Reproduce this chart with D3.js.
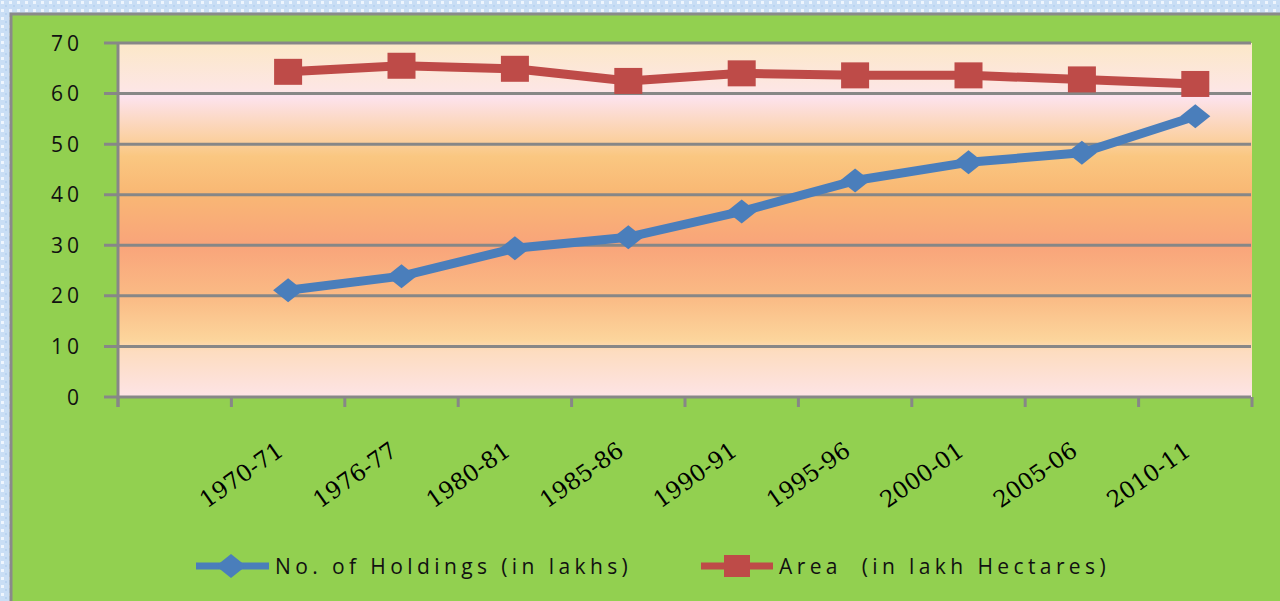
<!DOCTYPE html>
<html><head><meta charset="utf-8">
<script src="https://cdn.jsdelivr.net/npm/d3@7"></script>
<style>html,body{margin:0;padding:0;overflow:hidden;background:#fff}</style>
</head><body>
<svg id="c" width="1280" height="601"></svg>
<script>
const categories = ["", "1970-71", "1976-77", "1980-81", "1985-86", "1990-91", "1995-96", "2000-01", "2005-06", "2010-11"];
const holdings = [null, 21.1, 23.9, 29.4, 31.6, 36.7, 42.8, 46.4, 48.3, 55.5];
const area = [null, 64.3, 65.5, 64.9, 62.5, 64.0, 63.6, 63.6, 62.8, 61.9];
const yTicks = [0, 10, 20, 30, 40, 50, 60, 70];
const seriesNames = ["No. of Holdings (in lakhs)", "Area  (in lakh Hectares)"];

const svg = d3.select("#c");
const defs = svg.append("defs");
const pat = defs.append("pattern").attr("id", "dots").attr("width", 8).attr("height", 8).attr("patternUnits", "userSpaceOnUse");
pat.append("rect").attr("width", 8).attr("height", 8).attr("fill", "#c9def5");
pat.append("rect").attr("x", 1).attr("y", 1).attr("width", 3).attr("height", 3).attr("fill", "#eef5fd");
pat.append("rect").attr("x", 5).attr("y", 5).attr("width", 2).attr("height", 2).attr("fill", "#b9d3f0");

const grad = defs.append("linearGradient").attr("id", "pg").attr("x1", 0).attr("y1", 0).attr("x2", 0).attr("y2", 1);
[[0, "#fce8c8"], [0.13, "#fde6e4"], [0.15, "#fde3ef"], [0.28, "#fbcf9c"], [0.32, "#fac781"], [0.42, "#f9b874"],
 [0.57, "#f9a47a"], [0.72, "#fabb85"], [0.84, "#fcd59c"], [0.87, "#fddcbf"], [1, "#fde4e6"]]
  .forEach(([o, c]) => grad.append("stop").attr("offset", o).attr("stop-color", c));

svg.append("rect").attr("width", 1280).attr("height", 601).attr("fill", "url(#dots)");
svg.append("rect").attr("x", 11).attr("y", 14).attr("width", 1290).attr("height", 600)
  .attr("fill", "#92d050").attr("stroke", "#8a8a8a").attr("stroke-width", 3);

const L = 118, R = 1252, T = 43, B = 397;
const x = d3.scaleBand().domain(categories).range([L, R]);
const y = d3.scaleLinear().domain([0, 70]).range([B, T]);

svg.append("rect").attr("x", L).attr("y", T).attr("width", R - L).attr("height", B - T).attr("fill", "url(#pg)");

const grid = "#878787";
svg.append("g").selectAll("line").data(yTicks).join("line")
  .attr("x1", L - 14).attr("x2", R - 1).attr("y1", d => y(d)).attr("y2", d => y(d))
  .attr("stroke", grid).attr("stroke-width", 3);
svg.append("g").selectAll("text").data(yTicks).join("text")
  .attr("x", 83).attr("y", d => y(d)).attr("dy", "0.36em").attr("text-anchor", "end")
  .attr("font-family", "Open Sans, sans-serif").attr("font-size", 21).attr("letter-spacing", 4)
  .attr("fill", "#111").text(d => d);
svg.append("line").attr("x1", L).attr("x2", L).attr("y1", T - 1).attr("y2", B + 10).attr("stroke", grid).attr("stroke-width", 3);
const bounds = categories.map(c => x(c)).concat([R]);
svg.append("g").selectAll("line").data(bounds).join("line")
  .attr("x1", d => d).attr("x2", d => d).attr("y1", B).attr("y2", B + 10)
  .attr("stroke", grid).attr("stroke-width", 3);
const cx = c => x(c) + x.bandwidth() / 2;
svg.append("g").selectAll("text").data(categories.filter(c => c)).join("text")
  .attr("transform", c => `translate(${cx(c) - 3},${B + 57}) rotate(-35)`)
  .attr("text-anchor", "end")
  .attr("font-family", "DejaVu Serif, serif").attr("font-size", 23).attr("fill", "#000")
  .text(c => c);

const pts = arr => categories.map((c, i) => ({ c, v: arr[i] })).filter(d => d.v != null);
const line = d3.line().x(d => cx(d.c)).y(d => y(d.v));
const blue = "#4a7ebb", red = "#be4b48";
svg.append("path").datum(pts(holdings)).attr("d", line).attr("fill", "none").attr("stroke", blue)
  .attr("stroke-width", 9).attr("stroke-linejoin", "round");
svg.append("path").datum(pts(area)).attr("d", line).attr("fill", "none").attr("stroke", red)
  .attr("stroke-width", 9).attr("stroke-linejoin", "round");
const diamond = (px, py) => `M${px},${py - 12}L${px + 15},${py}L${px},${py + 12}L${px - 15},${py}Z`;
svg.append("g").selectAll("path").data(pts(holdings)).join("path")
  .attr("d", d => diamond(cx(d.c), y(d.v))).attr("fill", blue);
svg.append("g").selectAll("rect").data(pts(area)).join("rect")
  .attr("x", d => cx(d.c) - 14).attr("y", d => y(d.v) - 13).attr("width", 28).attr("height", 26).attr("fill", red);

const lg = svg.append("g").attr("font-family", "Open Sans, sans-serif").attr("font-size", 21).attr("letter-spacing", 4.4).attr("fill", "#111");
const ly = 566;
lg.append("line").attr("x1", 196).attr("x2", 269).attr("y1", ly).attr("y2", ly).attr("stroke", blue).attr("stroke-width", 7);
lg.append("path").attr("d", diamond(231, ly)).attr("fill", blue);
lg.append("text").attr("x", 275).attr("y", ly).attr("dy", "0.36em").text(seriesNames[0]);
lg.append("line").attr("x1", 701).attr("x2", 773).attr("y1", ly).attr("y2", ly).attr("stroke", red).attr("stroke-width", 7);
lg.append("rect").attr("x", 724).attr("y", ly - 11).attr("width", 26).attr("height", 22).attr("fill", red);
lg.append("text").attr("x", 779).attr("y", ly).attr("dy", "0.36em").attr("style", "white-space:pre").text(seriesNames[1]);
</script>
</body></html>
